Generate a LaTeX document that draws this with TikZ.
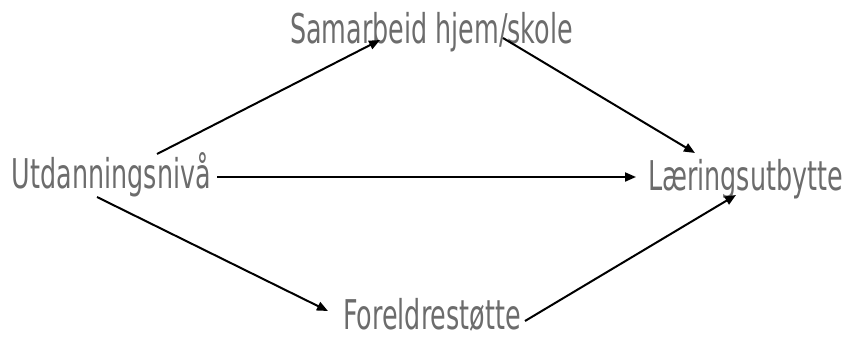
\documentclass[tikz,border=0pt]{standalone}
\usepackage{fontspec}
\setmainfont{DejaVu Sans}[FakeStretch=0.62]
\usetikzlibrary{arrows.meta}
\definecolor{txtgray}{RGB}{108,108,108}
\begin{document}
\begin{tikzpicture}[x=1pt,y=-1pt,
  lbl/.style={inner sep=0pt,outer sep=0pt,anchor=base west,text=txtgray,font=\fontsize{41}{48}\selectfont},
  arr/.style={line width=2pt,-{Triangle[length=11pt,width=9pt]}}]
\useasboundingbox (0,0) rectangle (845,340);
\node[lbl] (utd) at (12,188) {Utdanningsnivå};
\node[lbl] (sam) at (290,43) {Samarbeid hjem/skole};
\node[lbl] (lae) at (648,190) {Læringsutbytte};
\node[lbl] (for) at (343,329) {Foreldrestøtte};
\draw[arr] ([shift={(145,-34)}]utd.base west) -- ([shift={(90,-3)}]sam.base west);
\draw[arr] ([shift={(213,-5)}]sam.base west) -- ([shift={(47,-37)}]lae.base west);
\draw[arr] ([shift={(205,-11)}]utd.base west) -- ([shift={(-12,-13)}]lae.base west);
\draw[arr] ([shift={(85,9)}]utd.base west) -- ([shift={(-15,-18)}]for.base west);
\draw[arr] ([shift={(182,-8)}]for.base west) -- ([shift={(88,5)}]lae.base west);
\end{tikzpicture}
\end{document}
